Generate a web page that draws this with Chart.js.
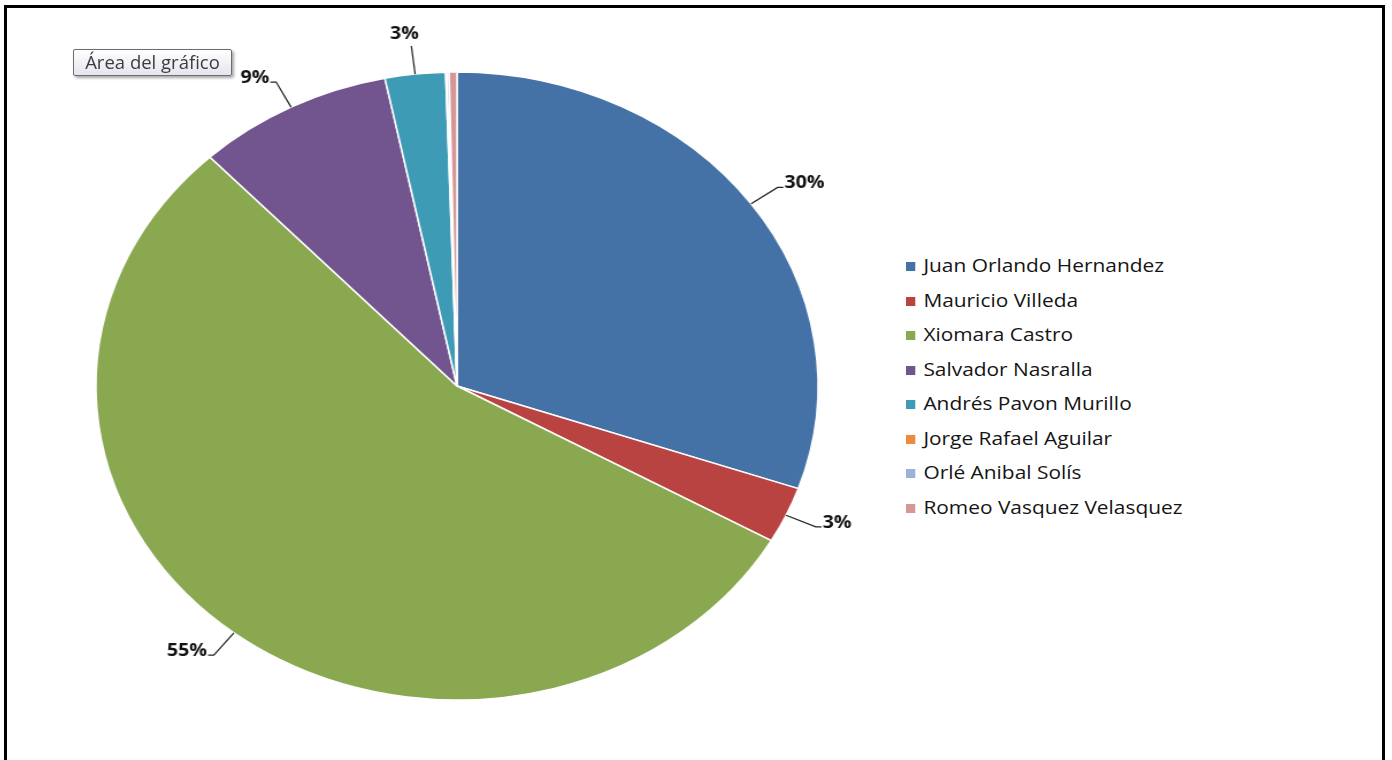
<!DOCTYPE html>
<html lang="es">
<head>
    <meta charset="UTF-8">
    <title>Encuesta</title>
    <script src="https://cdn.jsdelivr.net/npm/chart.js"></script>
    <style>
        html, body { margin: 0; padding: 0; background: #fff; overflow: hidden; }
        body { width: 1392px; height: 760px; position: relative; font-family: "Open Sans", Arial, sans-serif; }
        #frame { position: absolute; left: 4px; top: 5px; width: 1375px; height: 800px;
                 border: 3px solid #000; border-bottom: none; }
        /* el pastel original está estirado en horizontal */
        #pieChart { position: absolute; left: 20px; top: 6px; }
        #legend { position: absolute; left: 906px; top: 248px; transform: scaleX(1.16); transform-origin: left top; }
        #legend div { height: 34.5px; line-height: 34.5px; font-size: 18px; color: #151515; white-space: nowrap; }
        #legend span { display: inline-block; width: 8px; height: 9px; margin-right: 7px; vertical-align: 1px; }
        #tip { position: absolute; left: 73px; top: 49px; width: 157px; height: 25px; line-height: 24px;
               border: 1px solid #6d6d6d; border-radius: 2px; font-size: 18.5px; color: #3c3c3c; text-align: center;
               background: linear-gradient(#ffffff, #e4e5ee); box-shadow: 2px 2px 3px rgba(0,0,0,0.35); }
    </style>
</head>
<body>
    <div id="frame"></div>
    <canvas id="pieChart" width="760" height="760" style="width: 874px; height: 760px;"></canvas>
    <div id="legend"></div>
    <div id="tip">Área del gráfico</div>

    <script>
        var candidatos = ["Juan Orlando Hernandez", "Mauricio Villeda", "Xiomara Castro", "Salvador Nasralla",
                          "Andrés Pavon Murillo", "Jorge Rafael Aguilar", "Orlé Anibal Solís", "Romeo Vasquez Velasquez"];
        var porcentajes = [30.3, 2.9, 54.8, 8.8, 2.7, 0.05, 0.1, 0.35];
        var colores = ["#4472A6", "#B94340", "#8AA84F", "#72558F", "#3D9BB6", "#EE8A3C", "#9DB2D8", "#D69696"];

        // leyenda en html
        var legend = document.getElementById("legend");
        candidatos.forEach(function(nombre, i) {
            var row = document.createElement("div");
            row.innerHTML = '<span style="background:' + colores[i] + '"></span>' + nombre;
            legend.appendChild(row);
        });

        // etiquetas con línea guía, como en Excel
        var etiquetas = {
            id: "etiquetas",
            afterDatasetsDraw: function(chart) {
                var ctx = chart.ctx;
                var meta = chart.getDatasetMeta(0);
                var data = chart.data.datasets[0].data;
                var total = data.reduce(function(a, b) { return a + b; }, 0);
                ctx.save();
                ctx.strokeStyle = "#222";
                ctx.lineWidth = 1.2;
                ctx.fillStyle = "#111";
                ctx.font = "bold 17px 'Open Sans', Arial, sans-serif";
                meta.data.forEach(function(arc, i) {
                    var pct = Math.round(data[i] / total * 100);
                    if (pct < 1) return;
                    var a = (arc.startAngle + arc.endAngle) / 2;
                    var r = arc.outerRadius;
                    var x0 = arc.x + Math.cos(a) * r, y0 = arc.y + Math.sin(a) * r;
                    var x1 = arc.x + Math.cos(a) * r * 1.09, y1 = arc.y + Math.sin(a) * r * 1.09;
                    ctx.beginPath();
                    ctx.moveTo(x0, y0);
                    ctx.lineTo(x1, y1);
                    if (Math.abs(Math.cos(a)) < 0.25) {
                        ctx.stroke();
                        ctx.textAlign = "center";
                        ctx.textBaseline = "alphabetic";
                        ctx.fillText(pct + "%", x1 - 6, y1 - 7);
                    } else {
                        var dir = Math.cos(a) > 0 ? 1 : -1;
                        ctx.lineTo(x1 + dir * 5, y1);
                        ctx.stroke();
                        ctx.textAlign = dir > 0 ? "left" : "right";
                        ctx.textBaseline = "alphabetic";
                        ctx.fillText(pct + "%", x1 + dir * 6, y1 + 1);
                    }
                });
                ctx.restore();
            }
        };

        var pieChart = new Chart(document.getElementById("pieChart").getContext("2d"), {
            type: "pie",
            data: {
                labels: candidatos,
                datasets: [{
                    data: porcentajes,
                    backgroundColor: colores,
                    borderColor: "#ffffff",
                    borderWidth: 1.5
                }]
            },
            options: {
                responsive: false,
                animation: false,
                radius: 314,
                layout: { padding: 0 },
                plugins: { legend: { display: false }, tooltip: { enabled: false } }
            },
            plugins: [etiquetas]
        });
    </script>
</body>
</html>
